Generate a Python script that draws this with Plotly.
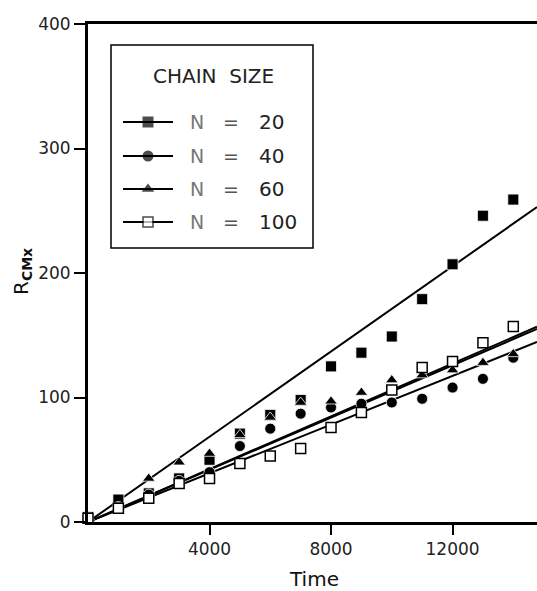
import plotly.graph_objects as go

# ---- data ----
time = [0, 1000, 2000, 3000, 4000, 5000, 6000, 7000, 8000, 9000, 10000, 11000, 12000, 13000, 14000]
r_n20 = [4, 18, 23, 35, 50, 71, 86, 98, 125, 136, 149, 179, 207, 246, 259]
r_n40 = [4, 12, 22, 33, 40, 61, 75, 87, 92, 95, 96, 99, 108, 115, 132]
r_n60 = [4, 12, 35, 48, 55, 70, 84, 96, 97, 104, 114, 118, 122, 128, 135]
r_n100 = [3, 11, 19, 31, 35, 47, 53, 59, 76, 88, 106, 124, 129, 144, 157]
# fitted straight lines through the origin (slope in R per time unit)
fit_slope = {"20": 0.01712, "40": 0.00978, "60": 0.01049, "100": 0.01061}
chain_labels = ["20", "40", "60", "100"]
x_ticks = [4000, 8000, 12000]
y_ticks = [0, 100, 200, 300, 400]
x_max = 14780
y_max = 400

W, H = 537, 591
L, R, T, B = 88, 0, 24, 69

series = {"20": r_n20, "40": r_n40, "60": r_n60, "100": r_n100}
styles = {
    "20": dict(symbol="square", size=11),
    "40": dict(symbol="circle", size=11),
    "60": dict(symbol="triangle-up", size=11),
    "100": dict(symbol="square", size=10),
}

fig = go.Figure()

# fit lines
for lab in chain_labels:
    fig.add_trace(go.Scatter(
        x=[0, x_max], y=[0, fit_slope[lab] * x_max], mode="lines",
        line=dict(color="black", width=2), showlegend=False, hoverinfo="skip"))

# data markers
for lab in chain_labels:
    st = styles[lab]
    if lab == "100":
        marker = dict(symbol="square", color="white", size=st["size"],
                      line=dict(color="black", width=1.5))
    else:
        marker = dict(symbol=st["symbol"], color="black", size=st["size"],
                      line=dict(color="white", width=0.8))
    fig.add_trace(go.Scatter(x=time, y=series[lab], mode="markers", marker=marker,
                             showlegend=False, cliponaxis=False, name="N = " + lab))

# ---- manual legend (pixel overlay axes) ----
def px(xp):
    return (xp - L) / (W - L - R)

def py(yp):
    return 1 - (yp - T) / (H - T - B)

row_y = [122, 156, 189, 222]
for lab, yy in zip(chain_labels, row_y):
    st = styles[lab]
    if lab == "100":
        marker = dict(symbol="square", color="white", size=[0, 10, 0],
                      line=dict(color="black", width=1.5))
    else:
        marker = dict(symbol=st["symbol"], color="black", size=[0, 11, 0], line=dict(width=0))
    fig.add_trace(go.Scatter(x=[123, 148, 173], y=[yy, yy, yy], mode="lines+markers",
                             line=dict(color="black", width=1.8), marker=marker,
                             xaxis="x2", yaxis="y2", showlegend=False, hoverinfo="skip",
                             cliponaxis=False))

annotations = []
annotations.append(dict(text="CHAIN  SIZE", x=px(213), y=py(76), xref="paper", yref="paper",
                        showarrow=False, xanchor="center", yanchor="middle",
                        font=dict(size=20, color="#222", family="DejaVu Sans")))
for lab, yy in zip(chain_labels, row_y):
    annotations.append(dict(text="N", x=px(197), y=py(yy), xref="paper", yref="paper",
                            showarrow=False, xanchor="center", yanchor="middle",
                            font=dict(size=19, color="#777", family="DejaVu Sans")))
    annotations.append(dict(text="=", x=px(231), y=py(yy), xref="paper", yref="paper",
                            showarrow=False, xanchor="center", yanchor="middle",
                            font=dict(size=19, color="#555", family="DejaVu Sans")))
    annotations.append(dict(text=lab, x=px(257), y=py(yy), xref="paper", yref="paper",
                            showarrow=False, xanchor="left", yanchor="middle",
                            font=dict(size=20, color="#222", family="DejaVu Sans")))

# axis titles
annotations.append(dict(text="Time", x=px(314), y=py(579), xref="paper", yref="paper",
                        showarrow=False, xanchor="center", yanchor="middle",
                        font=dict(size=20, color="#111", family="DejaVu Sans")))
annotations.append(dict(text="R<sub><b>CMx</b></sub>", x=px(22), y=py(272), xref="paper",
                        yref="paper", showarrow=False, textangle=-90,
                        xanchor="center", yanchor="middle",
                        font=dict(size=20, color="#111", family="DejaVu Sans")))

shapes = [dict(type="rect", xref="paper", yref="paper", x0=px(111), x1=px(313),
               y0=py(248), y1=py(45), line=dict(color="black", width=1.5),
               fillcolor="rgba(0,0,0,0)", layer="above")]

fig.update_layout(
    width=W, height=H,
    margin=dict(l=L, r=R, t=T, b=B),
    paper_bgcolor="white", plot_bgcolor="white",
    showlegend=False,
    font=dict(family="DejaVu Sans", color="#222"),
    xaxis=dict(range=[0, x_max], tickvals=x_ticks, ticktext=[str(v) for v in x_ticks],
               showgrid=False, zeroline=False, showline=True, linecolor="black",
               linewidth=3, mirror=True, ticks="outside", ticklen=10, tickwidth=1.5,
               tickcolor="black", tickfont=dict(size=17, color="#222")),
    yaxis=dict(range=[0, y_max], tickvals=y_ticks, ticktext=[str(v) for v in y_ticks],
               showgrid=False, zeroline=False, showline=True, linecolor="black",
               linewidth=3, ticks="outside", ticklen=11, tickwidth=1.5,
               tickcolor="black", tickfont=dict(size=17, color="#222")),
    xaxis2=dict(range=[L, W - R], overlaying="x", visible=False, fixedrange=True),
    yaxis2=dict(range=[H - B, T], overlaying="y", visible=False, fixedrange=True),
    annotations=annotations,
    shapes=shapes,
)

fig.write_html("out.html",
               config={"displayModeBar": False},
               post_script="document.body.style.margin='0';"
                           "document.body.style.overflow='hidden';"
                           "document.documentElement.style.overflow='hidden';")
